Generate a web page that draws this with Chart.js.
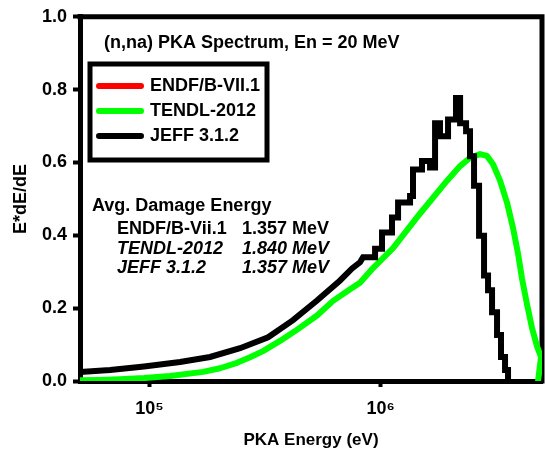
<!DOCTYPE html>
<html>
<head>
<meta charset="utf-8">
<title>(n,na) PKA Spectrum</title>
<script src="https://cdn.jsdelivr.net/npm/chart.js@4.4.1/dist/chart.umd.min.js"></script>
<style>
    body { margin: 0; background: #fff; }
</style>
</head>
<body>
<canvas id="pkaChart" width="545" height="457"></canvas>
<script>
// PKA energy (eV) and E*dE/dE
const jeffEnergy = [5.00e4, 6.75e4, 9.47e4, 1.355e5, 1.828e5, 2.465e5, 3.26e5, 4.18e5, 5.31e5, 6.68e5, 7.53e5, 8.15e5, 8.40e5,
    9.47e5, 9.47e5, 1.015e6, 1.015e6, 1.121e6, 1.121e6, 1.191e6, 1.191e6, 1.342e6, 1.342e6, 1.382e6, 1.382e6,
    1.512e6, 1.512e6, 1.638e6, 1.638e6, 1.722e6, 1.722e6, 1.809e6, 1.809e6, 1.960e6, 1.960e6, 2.122e6, 2.122e6,
    2.210e6, 2.210e6, 2.346e6, 2.346e6, 2.440e6, 2.440e6, 2.540e6, 2.540e6, 2.670e6, 2.670e6, 2.806e6, 2.806e6,
    2.920e6, 2.920e6, 3.039e6, 3.039e6, 3.194e6, 3.194e6, 3.323e6, 3.323e6, 3.459e6, 3.459e6, 3.564e6, 3.564e6];
const jeffValue = [0.025, 0.030, 0.040, 0.052, 0.066, 0.090, 0.120, 0.167, 0.221, 0.276, 0.309, 0.326, 0.340,
    0.340, 0.363, 0.363, 0.408, 0.408, 0.449, 0.449, 0.490, 0.490, 0.508, 0.508, 0.581,
    0.581, 0.604, 0.604, 0.586, 0.586, 0.708, 0.708, 0.672, 0.672, 0.718, 0.718, 0.777,
    0.777, 0.708, 0.708, 0.686, 0.686, 0.617, 0.617, 0.536, 0.536, 0.399, 0.399, 0.290,
    0.290, 0.249, 0.249, 0.189, 0.189, 0.126, 0.126, 0.066, 0.066, 0.030, 0.030, 0.0];

// ENDF/B-VII.1 sits exactly under the JEFF 3.1.2 curve in the picture
const endfEnergy = jeffEnergy;
const endfValue = jeffValue;

const tendlEnergy = [5.00e4, 6.11e4, 7.45e4, 9.47e4, 1.227e5, 1.705e5, 2.02e5, 2.392e5, 2.724e5, 3.099e5, 3.672e5,
    4.265e5, 5.31e5, 6.23e5, 7.38e5, 8.15e5, 9.28e5, 1.133e6, 1.483e6, 1.941e6, 2.210e6, 2.440e6, 2.696e6,
    2.891e6, 3.069e6, 3.291e6, 3.528e6, 3.746e6, 3.937e6, 4.100e6, 4.308e6, 4.529e6, 4.759e6, 4.953e6, 4.807e6];
const tendlValue = [0.002, 0.003, 0.005, 0.008, 0.014, 0.025, 0.035, 0.050, 0.065, 0.082, 0.110,
    0.137, 0.180, 0.220, 0.252, 0.270, 0.310, 0.365, 0.460, 0.550, 0.590, 0.613, 0.623,
    0.618, 0.595, 0.550, 0.490, 0.420, 0.350, 0.280, 0.210, 0.145, 0.095, 0.066, 0.0];

const seriesNames = ['ENDF/B-VII.1', 'TENDL-2012', 'JEFF 3.1.2'];
const seriesColors = ['#ff0000', '#00ff00', '#000000'];

const xTickValues = [1e5, 1e6];
const yTickValues = [0, 0.2, 0.4, 0.6, 0.8, 1.0];

const plotTitle = '(n,na) PKA Spectrum, En = 20 MeV';
const damageHeading = 'Avg. Damage Energy';
const damageLibraries = ['ENDF/B-Vii.1', 'TENDL-2012', 'JEFF 3.1.2'];
const damageValues = ['1.357 MeV', '1.840 MeV', '1.357 MeV'];
const damageItalic = [false, true, true];

const FONT = "'Liberation Sans', Arial, Helvetica, sans-serif";
const SUPERS = { '0': '\u2070', '1': '\u00b9', '2': '\u00b2', '3': '\u00b3', '4': '\u2074', '5': '\u2075', '6': '\u2076', '7': '\u2077', '8': '\u2078', '9': '\u2079' };

function toPoints(xs, ys) {
    return xs.map((x, i) => ({ x: x, y: ys[i] }));
}

function powerLabel(value) {
    let exp = String(Math.round(Math.log10(value)));
    return '10' + exp.split('').map(c => SUPERS[c]).join('');
}

// top and right edges of the box round the plot
const framePlugin = {
    id: 'frame',
    beforeDatasetsDraw(chart) {
        const { ctx, chartArea } = chart;
        ctx.save();
        ctx.strokeStyle = '#000';
        ctx.lineWidth = 5;
        ctx.lineCap = 'square';
        ctx.beginPath();
        ctx.moveTo(chartArea.left, chartArea.top);
        ctx.lineTo(chartArea.right, chartArea.top);
        ctx.lineTo(chartArea.right, chartArea.bottom);
        ctx.stroke();
        ctx.restore();
    }
};

// title, boxed legend and the damage energy table
const notesPlugin = {
    id: 'notes',
    afterDraw(chart) {
        const ctx = chart.ctx;
        ctx.save();
        ctx.fillStyle = '#000';
        ctx.textBaseline = 'middle';
        ctx.textAlign = 'left';

        ctx.font = 'bold 18px ' + FONT;
        ctx.fillText(plotTitle, 104, 43);

        // legend
        ctx.strokeStyle = '#000';
        ctx.lineWidth = 5;
        ctx.strokeRect(90, 64, 177, 96);
        let rowY = [86, 111, 136];
        chart.data.datasets.forEach(function (ds, i) {
            ctx.beginPath();
            ctx.strokeStyle = ds.borderColor;
            ctx.lineWidth = 6;
            ctx.lineCap = 'round';
            ctx.moveTo(99, rowY[i]);
            ctx.lineTo(141, rowY[i]);
            ctx.stroke();
            ctx.fillText(ds.label, 150, rowY[i]);
        });

        // average damage energy
        ctx.font = 'bold 18px ' + FONT;
        ctx.fillText(damageHeading, 92, 206);
        let tableY = [229, 249, 268];
        for (let i = 0; i < damageLibraries.length; i++) {
            ctx.font = (damageItalic[i] ? 'italic ' : '') + 'bold 18px ' + FONT;
            ctx.fillText(damageLibraries[i], 117, tableY[i]);
            ctx.fillText(damageValues[i], 242, tableY[i]);
        }
        ctx.restore();
    }
};

new Chart(document.getElementById('pkaChart'), {
    type: 'line',
    data: {
        datasets: [
            {
                // hidden under JEFF, drawn thinner so no red fringe shows
                label: seriesNames[0],
                data: toPoints(endfEnergy, endfValue),
                borderColor: seriesColors[0],
                borderWidth: 3,
                order: 2
            },
            {
                label: seriesNames[1],
                data: toPoints(tendlEnergy, tendlValue),
                borderColor: seriesColors[1],
                borderWidth: 6,
                borderJoinStyle: 'round',
                borderCapStyle: 'round',
                order: 1
            },
            {
                label: seriesNames[2],
                data: toPoints(jeffEnergy, jeffValue),
                borderColor: seriesColors[2],
                borderWidth: 6,
                order: 0
            }
        ]
    },
    options: {
        responsive: false,
        animation: false,
        devicePixelRatio: 1,
        parsing: false,
        elements: {
            point: { radius: 0 },
            line: { tension: 0, fill: false }
        },
        layout: { padding: { top: 15, right: 3, left: 0, bottom: 0 } },
        plugins: {
            legend: { display: false },
            tooltip: { enabled: false }
        },
        scales: {
            x: {
                type: 'logarithmic',
                min: 5e4,
                max: 5e6,
                afterBuildTicks: function (scale) {
                    scale.ticks = xTickValues.map(v => ({ value: v }));
                },
                afterFit: function (scale) {
                    scale.height = 76;
                },
                ticks: {
                    callback: value => powerLabel(value),
                    color: '#000',
                    font: { family: FONT, size: 18, weight: 'bold' },
                    padding: 11,
                    maxRotation: 0,
                    autoSkip: false
                },
                grid: { drawOnChartArea: false, tickLength: 6, tickWidth: 4, tickColor: '#000' },
                border: { display: true, width: 5, color: '#000' },
                title: {
                    display: true,
                    text: 'PKA Energy (eV)',
                    color: '#000',
                    font: { family: FONT, size: 17, weight: 'bold' },
                    padding: { top: 0, bottom: 6 }
                }
            },
            y: {
                min: 0,
                max: 1,
                afterBuildTicks: function (scale) {
                    scale.ticks = yTickValues.map(v => ({ value: v }));
                },
                afterFit: function (scale) {
                    scale.width = 80;
                },
                ticks: {
                    callback: value => value.toFixed(1),
                    color: '#000',
                    font: { family: FONT, size: 18, weight: 'bold' },
                    padding: 6
                },
                grid: { drawOnChartArea: false, tickLength: 7, tickWidth: 4, tickColor: '#000' },
                border: { display: true, width: 5, color: '#000' },
                title: {
                    display: true,
                    text: 'E*dE/dE',
                    color: '#000',
                    font: { family: FONT, size: 18, weight: 'bold' },
                    padding: { top: 10, bottom: 0 }
                }
            }
        }
    },
    plugins: [framePlugin, notesPlugin]
});
</script>
</body>
</html>
